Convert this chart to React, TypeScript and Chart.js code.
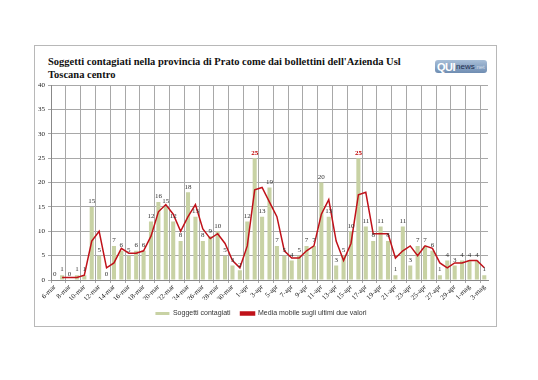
import React, { useEffect, useRef } from "react";
import { Chart, registerables } from "chart.js";

Chart.register(...registerables);

const categories = [
  "6-mar", "7-mar", "8-mar", "9-mar", "10-mar", "11-mar", "12-mar", "13-mar", "14-mar", "15-mar",
  "16-mar", "17-mar", "18-mar", "19-mar", "20-mar", "21-mar", "22-mar", "23-mar", "24-mar", "25-mar",
  "26-mar", "27-mar", "28-mar", "29-mar", "30-mar", "31-mar",
  "1-apr", "2-apr", "3-apr", "4-apr", "5-apr", "6-apr", "7-apr", "8-apr", "9-apr", "10-apr",
  "11-apr", "12-apr", "13-apr", "14-apr", "15-apr", "16-apr", "17-apr", "18-apr", "19-apr", "20-apr",
  "21-apr", "22-apr", "23-apr", "24-apr", "25-apr", "26-apr", "27-apr", "28-apr", "29-apr", "30-apr",
  "1-mag", "2-mag", "3-mag",
];

const cases = [
  0, 1, 0, 1, 1, 15, 5, 0, 7, 6,
  5, 6, 6, 12, 16, 15, 12, 8, 18, 13,
  8, 9, 10, 5, 3, 2,
  12, 25, 13, 19, 7, 5, 4, 5, 7, 7,
  20, 13, 3, 5, 10, 25, 11, 8, 11, 8,
  1, 11, 3, 7, 7, 6, 1, 4, 3, 4,
  4, 4, 1,
];

const movingAvg = [
  null, 0.5, 0.5, 0.5, 1, 8, 10, 2.5, 3.5, 6.5,
  5.5, 5.5, 6, 9, 14, 15.5, 13.5, 10, 13, 15.5,
  10.5, 8.5, 9.5, 7.5, 4, 2.5,
  7, 18.5, 19, 16, 13, 6, 4.5, 4.5, 6, 7,
  13.5, 16.5, 8, 4, 7.5, 17.5, 18, 9.5, 9.5, 9.5,
  4.5, 6, 7, 5, 7, 6.5, 3.5, 2.5, 3.5, 3.5,
  4, 4, 2.5,
];

const barLabel = "Soggetti contagiati";
const lineLabel = "Media mobile sugli ultimi due valori";
const titleLine1 = "Soggetti contagiati nella provincia di Prato come dai bollettini dell'Azienda Usl";
const titleLine2 = "Toscana centro";

const SERIF = '"Liberation Serif", "DejaVu Serif", serif';

const valueLabels = {
  id: "valueLabels",
  afterDatasetsDraw(chart: any) {
    const meta = chart.getDatasetMeta(0);
    const ctx = chart.ctx;
    ctx.save();
    ctx.textAlign = "center";
    ctx.textBaseline = "bottom";
    meta.data.forEach((bar: any, i: number) => {
      const v = cases[i];
      const red = v === 25;
      ctx.font = `${red ? "bold " : ""}7px ${SERIF}`;
      ctx.fillStyle = red ? "#c00000" : "#333333";
      ctx.fillText(String(v), bar.x, bar.y - 2);
    });
    ctx.restore();
  },
};

export default function App() {
  const ref = useRef<HTMLCanvasElement>(null);

  useEffect(() => {
    if (!ref.current) return;
    const chart = new Chart(ref.current, {
      type: "bar",
      data: {
        labels: categories,
        datasets: [
          {
            type: "bar",
            label: barLabel,
            data: cases,
            backgroundColor: "#c8d2a4",
            borderWidth: 0,
            barPercentage: 0.55,
            categoryPercentage: 1,
            order: 1,
          },
          {
            type: "line",
            label: lineLabel,
            data: movingAvg,
            borderColor: "#c0121a",
            backgroundColor: "#c0121a",
            borderWidth: 1.5,
            pointRadius: 0,
            tension: 0,
            order: 0,
          },
        ],
      },
      options: {
        responsive: false,
        animation: false,
        layout: { padding: { top: 7, right: 9, left: 0, bottom: 0 } },
        plugins: {
          title: { display: false },
          tooltip: { enabled: false },
          legend: {
            position: "bottom",
            labels: {
              boxWidth: 14,
              boxHeight: 3,
              padding: 10,
              color: "#333",
              font: { size: 7, family: '"Liberation Sans", "Open Sans", sans-serif' },
              sort: (a: any, b: any) => a.datasetIndex - b.datasetIndex,
            },
          },
        },
        scales: {
          x: {
            grid: {
              offset: true,
              color: (ctx: any) => (ctx.index % 2 === 0 ? "#a8a8a8" : "rgba(0,0,0,0)"),
              tickLength: 3,
              lineWidth: 1,
            },
            border: { color: "#888" },
            ticks: {
              autoSkip: false,
              minRotation: 45,
              maxRotation: 45,
              padding: 0,
              color: "#222",
              font: { size: 7, family: SERIF },
              callback: (_v: any, i: number) => (i % 2 === 0 ? categories[i] : ""),
            },
            afterFit: (scale: any) => {
              scale.height = 20;
            },
          },
          y: {
            min: 0,
            max: 40,
            ticks: {
              stepSize: 5,
              padding: 3,
              color: "#222",
              font: { size: 7, family: SERIF },
            },
            grid: { color: "#a8a8a8", tickLength: 3 },
            border: { color: "#888" },
            afterFit: (scale: any) => {
              scale.width = 17;
            },
          },
        },
      },
      plugins: [valueLabels],
    } as any);
    return () => chart.destroy();
  }, []);

  return (
    <div style={{ position: "fixed", left: 0, top: 0, width: 538, height: 380, background: "#fff" }}>
      <div
        style={{
          position: "absolute",
          left: 34,
          top: 45,
          width: 461,
          height: 280,
          border: "1px solid #b8b8b8",
        }}
      />
      <div
        style={{
          position: "absolute",
          left: 48,
          top: 55,
          fontFamily: SERIF,
          fontWeight: "bold",
          fontSize: 10.5,
          lineHeight: "13px",
          color: "#111",
          whiteSpace: "nowrap",
        }}
      >
        {titleLine1}
        <br />
        {titleLine2}
      </div>
      <div
        style={{
          position: "absolute",
          left: 435,
          top: 60,
          width: 52,
          height: 13,
          borderRadius: 3,
          background: "linear-gradient(#a9bfd8, #6f8db2)",
          display: "flex",
          alignItems: "center",
          paddingLeft: 2,
          boxSizing: "border-box",
          whiteSpace: "nowrap",
          fontFamily: '"Liberation Sans", Arial, sans-serif',
          overflow: "hidden",
        }}
      >
        <span style={{ color: "#fff", fontWeight: "bold", fontSize: 11, letterSpacing: -0.5 }}>QUI</span>
        <span style={{ color: "#1c2c4c", fontSize: 8, marginLeft: 1 }}>news</span>
        <span style={{ color: "#d4deea", fontSize: 6 }}>.net</span>
      </div>
      <canvas
        ref={ref}
        width={463}
        height={249}
        style={{ position: "absolute", left: 34, top: 78, width: 463, height: 249 }}
      />
    </div>
  );
}
